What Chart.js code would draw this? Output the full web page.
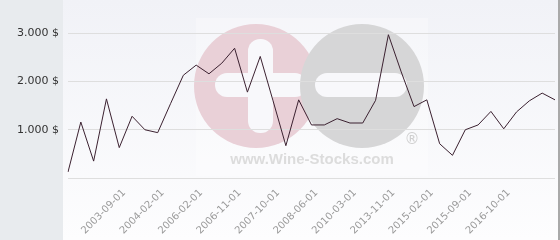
<!DOCTYPE html>
<html>
<head>
<meta charset="utf-8">
<script src="https://cdn.jsdelivr.net/npm/chart.js@4/dist/chart.umd.min.js"></script>
<style>
  html, body { margin: 0; padding: 0; background: #e8ebee; }
  #wrap { width: 560px; height: 240px; position: relative; }
</style>
</head>
<body>
<div id="wrap"><canvas id="myChart" width="560" height="240"></canvas></div>
<script>
// x categories (only the labelled dates could be read)
let dates = ['', '', '', '', '2003-09-01', '', '', '2004-02-01', '', '', '2006-02-01', '', '', '2006-11-01',
    '', '', '2007-10-01', '', '', '2008-06-01', '', '', '2010-03-01', '', '', '2013-11-01', '', '',
    '2015-02-01', '', '', '2015-09-01', '', '', '2016-10-01', '', '', '', ''];

// price in $
let prices = [125, 1160, 350, 1640, 630, 1280, 1000, 940, 1540, 2130, 2340, 2160, 2380, 2690,
    1780, 2520, 1600, 670, 1620, 1100, 1100, 1230, 1140, 1140, 1610, 2970, 2200, 1480,
    1620, 710, 470, 1000, 1100, 1380, 1020, 1370, 1600, 1760, 1620];

let yTicks = [0, 1000, 2000, 3000];

function fmt(v){
    return v.toLocaleString('de-DE') + ' $';
}

// background + watermark
const bgPlugin = {
    id: 'bg',
    beforeDraw(chart){
        let ctx = chart.ctx;
        ctx.save();
        ctx.fillStyle = '#e8ebee';
        ctx.fillRect(0, 0, 560, 240);
        let g = ctx.createLinearGradient(0, 0, 0, 240);
        g.addColorStop(0, '#f1f2f7');
        g.addColorStop(1, '#fdfdfe');
        ctx.fillStyle = g;
        ctx.fillRect(63, 0, 495, 240);
        ctx.fillStyle = '#a9a9a9';
        ctx.fillRect(558, 0, 2, 240);

        ctx.fillStyle = 'rgba(255,255,255,0.3)';
        ctx.fillRect(196, 18, 232, 158);

        // pink plus
        ctx.fillStyle = '#e9d0d7';
        ctx.beginPath(); ctx.arc(256, 86, 62, 0, Math.PI*2); ctx.fill();
        ctx.fillStyle = '#f8f8fb';
        ctx.beginPath(); ctx.roundRect(248, 39, 25, 94, 12); ctx.fill();
        ctx.beginPath(); ctx.roundRect(215, 73, 92, 24, 12); ctx.fill();
        // grey minus
        ctx.fillStyle = '#d6d6d7';
        ctx.beginPath(); ctx.arc(362, 86, 62, 0, Math.PI*2); ctx.fill();
        ctx.fillStyle = '#f8f8fb';
        ctx.beginPath(); ctx.roundRect(315, 73, 92, 24, 12); ctx.fill();

        ctx.fillStyle = '#dcdcdc';
        ctx.font = 'bold 15px "Liberation Sans", Arial';
        ctx.textAlign = 'center';
        ctx.textBaseline = 'middle';
        ctx.fillText('www.Wine-Stocks.com', 312, 160);
        ctx.fillStyle = '#cfcfcf';
        ctx.font = '15px "DejaVu Sans"';
        ctx.fillText('\u00AE', 412, 140);
        ctx.restore();
    }
};

const data = {
    labels: dates,
    datasets: [{
        data: prices,
        borderColor: '#3b2130',
        borderWidth: 1,
        pointRadius: 0,
        tension: 0,
        fill: false
    }]
};

const config = {
    type: 'line',
    data: data,
    plugins: [bgPlugin],
    options: {
        responsive: false,
        animation: false,
        layout: { padding: { top: 0, right: 5, left: 0, bottom: 0 } },
        plugins: { legend: { display: false }, tooltip: { enabled: false } },
        scales: {
            x: {
                offset: false,
                grid: { display: false, drawTicks: false },
                border: { display: false },
                afterFit: function(s){ s.height = 62; s.paddingLeft = 0; s.paddingRight = 0; },
                ticks: {
                    autoSkip: false,
                    maxRotation: 45,
                    minRotation: 45,
                    padding: 9,
                    labelOffset: 5,
                    color: '#9a9a9a',
                    font: { family: 'DejaVu Sans', size: 10 }
                }
            },
            y: {
                min: 0,
                max: 3690,
                afterBuildTicks: function(s){ s.ticks = yTicks.map(v => ({ value: v })); },
                afterFit: function(s){ s.width = 68; s.paddingTop = 0; s.paddingBottom = 0; },
                grid: { color: '#dedede', drawTicks: false },
                border: { display: false },
                ticks: {
                    padding: 9,
                    color: '#333',
                    font: { family: 'DejaVu Sans', size: 11 },
                    callback: function(v){ return v === 0 ? '' : fmt(v); }
                }
            }
        }
    }
};

let pirChart = document.getElementById('myChart');
var myChart = new Chart(pirChart, config);
</script>
</body>
</html>
